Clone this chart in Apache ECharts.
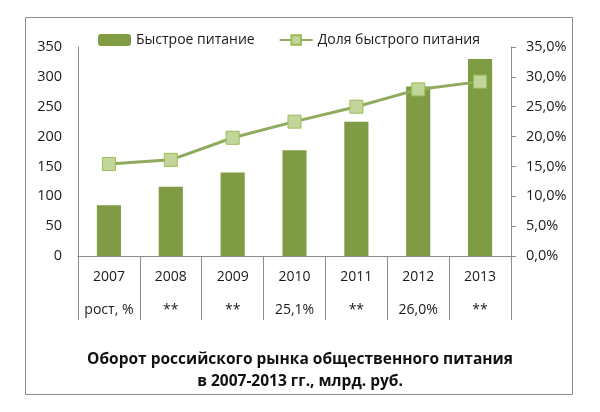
<!DOCTYPE html>
<html lang="ru">
<head>
  <meta charset="UTF-8">
  <title>Оборот рынка общественного питания</title>
  <style>
    html, body { margin: 0; padding: 0; background: #fff; }
    #chart { width: 600px; height: 412px; }
  </style>
</head>
<body>
  <div id="chart"></div>

  <script src="https://cdn.jsdelivr.net/npm/echarts@6/dist/echarts.min.js"></script>
  <script>
    // data
    var years = ['2007', '2008', '2009', '2010', '2011', '2012', '2013'];
    var growthLabels = ['рост, %', '**', '**', '25,1%', '**', '26,0%', '**'];
    var fastFood = [85, 116, 140, 177, 225, 284, 330];
    var fastFoodShare = [15.4, 16.1, 19.8, 22.5, 25.0, 27.9, 29.2];
    var leftTicks = [0, 50, 100, 150, 200, 250, 300, 350];

    var font = '"Open Sans", "Noto Sans", sans-serif';
    var textColor = '#1a1a1a';

    var chart = echarts.init(document.getElementById('chart'));

    var option = {
      backgroundColor: '#fff',
      textStyle: { fontFamily: font, color: textColor },
      title: {
        text: 'Оборот российского рынка общественного питания\nв 2007-2013 гг., млрд. руб.',
        left: 'center',
        top: 344,
        textStyle: {
          fontFamily: font,
          fontSize: 15.5,
          fontWeight: 'bold',
          lineHeight: 22,
          color: '#111'
        }
      },
      graphic: [{
        type: 'rect',
        shape: { x: 25.5, y: 17.5, width: 547, height: 377 },
        style: { fill: null, stroke: '#8c8c8c', lineWidth: 1 },
        silent: true
      }],
      legend: {
        top: 28,
        left: 93,
        itemWidth: 33,
        itemHeight: 12,
        itemGap: 24,
        textStyle: { fontFamily: font, fontSize: 14, color: textColor },
        data: ['Быстрое питание', 'Доля быстрого питания']
      },
      grid: { left: 78, right: 89, top: 47, bottom: 156 },
      xAxis: {
        type: 'category',
        data: years,
        axisLine: { lineStyle: { color: '#8c8c8c' } },
        axisTick: {
          show: true,
          alignWithLabel: false,
          length: 64,
          lineStyle: { color: '#8c8c8c' }
        },
        axisLabel: {
          interval: 0,
          margin: 5,
          formatter: function (value, idx) {
            return '{y|' + value + '}\n{g|' + growthLabels[idx] + '}';
          },
          rich: {
            y: { fontFamily: font, fontSize: 14, lineHeight: 33, color: textColor },
            g: { fontFamily: font, fontSize: 14, lineHeight: 33, color: textColor }
          }
        }
      },
      yAxis: [{
        type: 'value',
        min: leftTicks[0],
        max: leftTicks[leftTicks.length - 1],
        interval: 50,
        splitLine: { show: false },
        axisLine: { show: true, lineStyle: { color: '#8c8c8c' } },
        axisTick: { show: false },
        axisLabel: { fontFamily: font, fontSize: 14.5, color: textColor, margin: 16 }
      }, {
        type: 'value',
        min: 0,
        max: 35,
        interval: 5,
        splitLine: { show: false },
        axisLine: { show: true, lineStyle: { color: '#8c8c8c' } },
        axisTick: { show: true, inside: false, length: 5, lineStyle: { color: '#8c8c8c' } },
        axisLabel: {
          fontFamily: font,
          fontSize: 14.5,
          color: textColor,
          margin: 15,
          formatter: function (v) { return v.toFixed(1).replace('.', ',') + '%'; }
        }
      }],
      series: [{
        name: 'Быстрое питание',
        type: 'bar',
        data: fastFood,
        barWidth: '39%',
        itemStyle: { color: '#7f9c45' }
      }, {
        name: 'Доля быстрого питания',
        type: 'line',
        yAxisIndex: 1,
        data: fastFoodShare,
        symbol: 'rect',
        symbolSize: 13,
        lineStyle: { color: '#8fab5e', width: 3 },
        itemStyle: { color: '#c2d69b', borderColor: '#9bbb59', borderWidth: 1 }
      }]
    };

    chart.setOption(option);
  </script>
</body>
</html>
